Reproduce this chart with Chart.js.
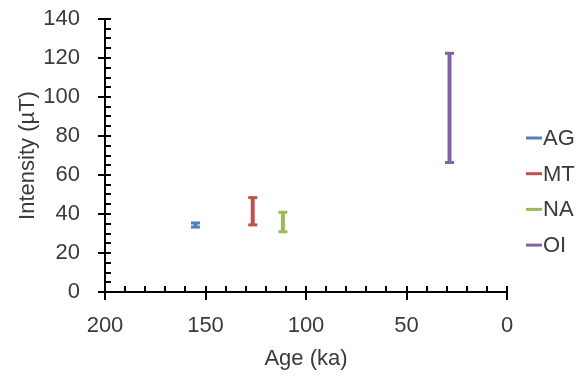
<!DOCTYPE html>
<html>
<head>
<meta charset="utf-8">
<script src="https://cdn.jsdelivr.net/npm/chart.js@4"></script>
<style>
  html, body { margin: 0; padding: 0; background: #fff; }
  #wrap { width: 577px; height: 376px; position: relative; }
</style>
</head>
<body>
<div id="wrap"><canvas id="c"></canvas></div>
<script>
// sites and their age / intensity ranges
const sites = ['AG', 'MT', 'NA', 'OI'];
const ages = [155, 126.5, 111.5, 28.6];
const lows = [33.3, 34.4, 30.9, 66.4];
const highs = [35.4, 48.4, 40.9, 122.4];
const colors = ['#4F81BD', '#C0504D', '#9BBB59', '#8064A2'];

const FONT = 'Liberation Sans';
const SIZE = 22;
const TEXT = '#3a3a3a';

// major ticks cross the axis, minor ticks sit inside
const axisTicks = {
  id: 'axisTicks',
  afterDraw(chart) {
    const { ctx, chartArea, scales: { x, y } } = chart;
    ctx.save();
    ctx.strokeStyle = '#000';
    ctx.lineWidth = 2;
    for (let v = 0; v <= 140; v += 5) {
      const py = Math.round(y.getPixelForValue(v));
      const major = v % 20 === 0;
      ctx.beginPath();
      ctx.moveTo(chartArea.left - (major ? 7 : 0), py);
      ctx.lineTo(chartArea.left + 6, py);
      ctx.stroke();
    }
    for (let v = 0; v <= 200; v += 10) {
      const px = Math.round(x.getPixelForValue(v));
      const major = v % 50 === 0;
      ctx.beginPath();
      ctx.moveTo(px, chartArea.bottom - 6);
      ctx.lineTo(px, chartArea.bottom + (major ? 8 : 0));
      ctx.stroke();
    }
    ctx.restore();
  }
};

// legend on the right, short line + label
const sideLegend = {
  id: 'sideLegend',
  afterDraw(chart) {
    const { ctx } = chart;
    ctx.save();
    ctx.font = SIZE + 'px "' + FONT + '"';
    ctx.textBaseline = 'middle';
    chart.data.datasets.forEach((ds, i) => {
      const yy = 138 + i * 35.7;
      ctx.fillStyle = ds.borderColor;
      ctx.fillRect(526, yy - 1.5, 16, 3);
      ctx.fillStyle = TEXT;
      ctx.fillText(ds.label, 543, yy + 1);
    });
    ctx.restore();
  }
};

const datasets = sites.map((s, i) => ({
  label: s,
  data: [{ x: ages[i], y: lows[i] }, { x: ages[i], y: highs[i] }],
  borderColor: colors[i],
  backgroundColor: colors[i],
  borderWidth: 4,
  pointStyle: 'line',
  pointRadius: 4.5,
  pointBorderWidth: 3,
  pointBorderColor: colors[i],
  showLine: true
}));

new Chart(document.getElementById('c'), {
  type: 'line',
  data: { datasets },
  options: {
    responsive: true,
    maintainAspectRatio: false,
    animation: false,
    layout: { padding: { top: 19, right: 70, left: 0, bottom: 0 } },
    plugins: {
      legend: { display: false },
      tooltip: { enabled: false }
    },
    scales: {
      x: {
        type: 'linear',
        reverse: true,
        min: 0,
        max: 200,
        grid: { display: false, drawTicks: false },
        border: { color: '#000', width: 2 },
        ticks: {
          stepSize: 50,
          padding: 21,
          color: TEXT,
          font: { family: FONT, size: SIZE }
        },
        title: {
          display: true,
          text: 'Age (ka)',
          color: TEXT,
          padding: { top: 1 },
          font: { family: FONT, size: SIZE }
        },
        afterFit: s => { s.height = 84; }
      },
      y: {
        min: 0,
        max: 140,
        // invisible tick marks just push the labels away from the axis
        grid: {
          display: true,
          drawOnChartArea: false,
          drawTicks: true,
          tickLength: 25,
          tickColor: 'rgba(0,0,0,0)'
        },
        border: { color: '#000', width: 2 },
        ticks: {
          stepSize: 20,
          padding: 0,
          color: TEXT,
          font: { family: FONT, size: SIZE }
        },
        title: {
          display: true,
          text: 'Intensity (µT)',
          color: TEXT,
          padding: { top: 15, bottom: 0 },
          font: { family: FONT, size: SIZE }
        },
        afterFit: s => { s.width = 105; }
      }
    }
  },
  plugins: [axisTicks, sideLegend]
});
</script>
</body>
</html>
